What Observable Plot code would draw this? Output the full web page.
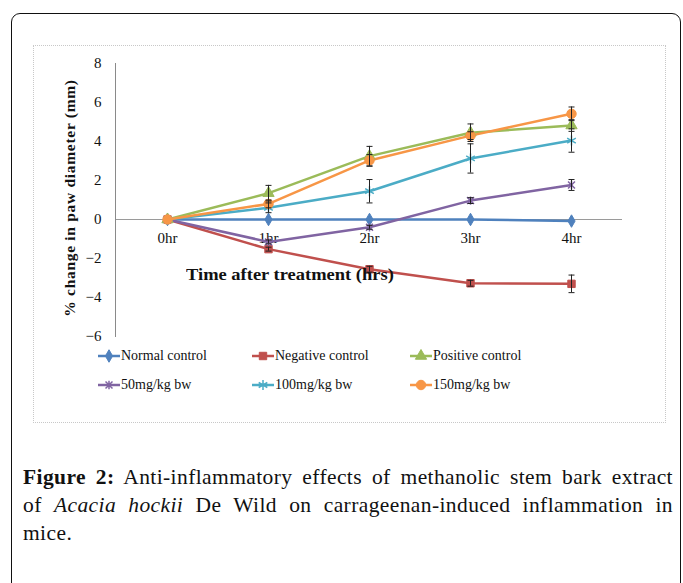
<!DOCTYPE html>
<html><head><meta charset="utf-8">
<script src="https://cdn.jsdelivr.net/npm/d3@7"></script>
<script src="https://cdn.jsdelivr.net/npm/@observablehq/plot@0.6"></script>
<style>
body{margin:0;background:#fff;}
#wrap{position:relative;width:683px;height:583px;overflow:hidden;background:#fff;font-family:"Liberation Serif","Times New Roman",serif;}
#outer{position:absolute;left:11px;top:13px;width:668px;height:620px;border:1.5px solid #111;border-radius:9px;}
#box{position:absolute;left:33px;top:45px;width:631px;height:376px;border:1px dotted #c8c8c8;}
#chart{position:absolute;left:0;top:0;}
#chart svg, #chart svg text{font-family:"Liberation Serif","Times New Roman",serif !important;}
#xtitle{position:absolute;left:152px;top:219px;font-weight:bold;font-size:16.5px;color:#111;white-space:nowrap;transform:scaleX(1.12);transform-origin:0 50%;}
#ytitle{position:absolute;left:36px;top:152px;transform:translate(-50%,-50%) rotate(-90deg);font-weight:bold;font-size:15.5px;letter-spacing:0.7px;color:#111;white-space:nowrap;}
.leg{position:absolute;display:flex;align-items:center;font-size:14px;color:#111;white-space:nowrap;}
.leg svg{margin-right:1px;}
#caption{position:absolute;left:23px;top:463px;width:650px;font-family:"Liberation Serif","Times New Roman",serif;font-size:21.5px;letter-spacing:0.4px;line-height:28px;color:#111;}
#caption .j{text-align:justify;text-align-last:justify;white-space:nowrap;}
</style></head>
<body>
<div id="wrap">
  <div id="outer"></div>
  <div id="box">
    <div id="chart"></div>
    <div id="xtitle">Time after treatment (hrs)</div>
    <div id="ytitle">% change in paw diameter (mm)</div>
    <div id="legend"></div>
  </div>
  <div id="caption"><div class="j"><b>Figure 2:</b> Anti-inflammatory effects of methanolic stem bark extract</div><div class="j">of <i>Acacia hockii</i> De Wild on carrageenan-induced inflammation in</div><div>mice.</div></div>
</div>
<script>
const times = ["0hr", "1hr", "2hr", "3hr", "4hr"];
const seriesNames = ["Normal control", "Negative control", "Positive control", "50mg/kg bw", "100mg/kg bw", "150mg/kg bw"];
const normalVals   = [0, 0, 0, 0, -0.08];
const negativeVals = [0, -1.52, -2.55, -3.27, -3.3];
const positiveVals = [0, 1.35, 3.25, 4.45, 4.82];
const mg50Vals     = [0, -1.15, -0.4, 0.97, 1.77];
const mg100Vals    = [0, 0.6, 1.45, 3.13, 4.05];
const mg150Vals    = [0, 0.8, 3.03, 4.3, 5.42];
const normalErr    = [0, 0, 0, 0, 0];
const negativeErr  = [0, 0.1, 0.15, 0.15, 0.45];
const positiveErr  = [0, 0.4, 0.5, 0.45, 0.3];
const mg50Err      = [0, 0.1, 0.1, 0.15, 0.28];
const mg100Err     = [0, 0.25, 0.6, 0.75, 0.6];
const mg150Err     = [0, 0.2, 0.3, 0.2, 0.35];
const yTicks = [-6, -4, -2, 0, 2, 4, 6, 8];

const colors = ["#4F81BD", "#C0504D", "#9BBB59", "#8064A2", "#4BACC6", "#F79646"];
const serif = '"Liberation Serif","Times New Roman",serif';

const starSym = {draw(ctx, size){ const r = Math.sqrt(size) * 0.55;
  ctx.moveTo(-r,-r); ctx.lineTo(r,r); ctx.moveTo(r,-r); ctx.lineTo(-r,r); ctx.moveTo(0,-r*1.2); ctx.lineTo(0,r*1.2);}};
const symbols = [d3.symbolDiamond, d3.symbolSquare, d3.symbolTriangle, starSym, d3.symbolAsterisk, d3.symbolCircle];
const symbolFilled = [true, true, true, false, false, true];
const symbolSize = [45, 55, 55, 40, 70, 70];

const allVals = [normalVals, negativeVals, positiveVals, mg50Vals, mg100Vals, mg150Vals];
const allErr = [normalErr, negativeErr, positiveErr, mg50Err, mg100Err, mg150Err];

const rows = [];
seriesNames.forEach((s, si) => times.forEach((t, ti) => rows.push({series: s, si, time: t, value: allVals[si][ti], err: allErr[si][ti]})));
const errRows = rows.filter(d => d.err > 0);

const capSym = {draw(ctx, size){ const r = 3; ctx.moveTo(-r,0); ctx.lineTo(r,0); }};

const marks = [
  Plot.ruleY([0], {stroke: "#9a9a9a", strokeWidth: 1}),
  Plot.frame({anchor: "left", stroke: "#8a8a8a"}),
  Plot.axisY({ticks: yTicks, tickSize: 0, tickPadding: 14, fontSize: 15, fontFamily: serif, fill: "#111", label: null}),
  Plot.text(times, {x: d => d, y: () => 0, dy: 19, fontSize: 15, fontFamily: serif, fill: "#111", text: d => d}),
];
seriesNames.forEach((s, si) => {
  const data = rows.filter(d => d.si === si);
  marks.push(Plot.line(data, {x: "time", y: "value", stroke: colors[si], strokeWidth: 2.5}));
});
seriesNames.forEach((s, si) => {
  const data = rows.filter(d => d.si === si);
  marks.push(Plot.dot(data, {x: "time", y: "value", symbol: () => symbols[si], r: Math.sqrt(symbolSize[si] / Math.PI),
    fill: symbolFilled[si] ? colors[si] : "none", stroke: colors[si], strokeWidth: symbolFilled[si] ? 1 : 1.5}));
});
marks.push(
  Plot.ruleX(errRows, {x: "time", y1: d => d.value - d.err, y2: d => d.value + d.err, stroke: "#222", strokeWidth: 1}),
  Plot.dot(errRows, {x: "time", y: d => d.value + d.err, symbol: () => capSym, stroke: "#222", strokeWidth: 1, fill: "none"}),
  Plot.dot(errRows, {x: "time", y: d => d.value - d.err, symbol: () => capSym, stroke: "#222", strokeWidth: 1, fill: "none"})
);

const chart = Plot.plot({
  width: 631, height: 300,
  marginLeft: 81, marginRight: 43, marginTop: 17, marginBottom: 10,
  style: {fontFamily: serif, background: "transparent"},
  x: {type: "point", domain: times, padding: 0.5, axis: null},
  y: {domain: [-6, 8], axis: null},
  symbol: {type: "identity"},
  marks
});
chart.style.fontFamily = serif;
document.getElementById("chart").appendChild(chart);

// legend
const legPos = [[64, 310], [218, 310], [376, 310], [64, 339], [218, 339], [376, 339]];
const leg = document.getElementById("legend");
seriesNames.forEach((s, si) => {
  const div = document.createElement("div");
  div.className = "leg";
  div.style.left = legPos[si][0] + "px";
  div.style.top = (legPos[si][1] - 9) + "px";
  const svg = d3.create("svg").attr("width", 22).attr("height", 18);
  svg.append("line").attr("x1", 0).attr("x2", 22).attr("y1", 9).attr("y2", 9).attr("stroke", colors[si]).attr("stroke-width", 2.5);
  svg.append("path").attr("transform", "translate(11,9)")
    .attr("d", d3.symbol(symbols[si], symbolSize[si])())
    .attr("fill", symbolFilled[si] ? colors[si] : "none").attr("stroke", colors[si]).attr("stroke-width", symbolFilled[si] ? 1 : 1.5);
  div.appendChild(svg.node());
  const span = document.createElement("span");
  span.textContent = s;
  div.appendChild(span);
  leg.appendChild(div);
});
</script>
</body></html>
